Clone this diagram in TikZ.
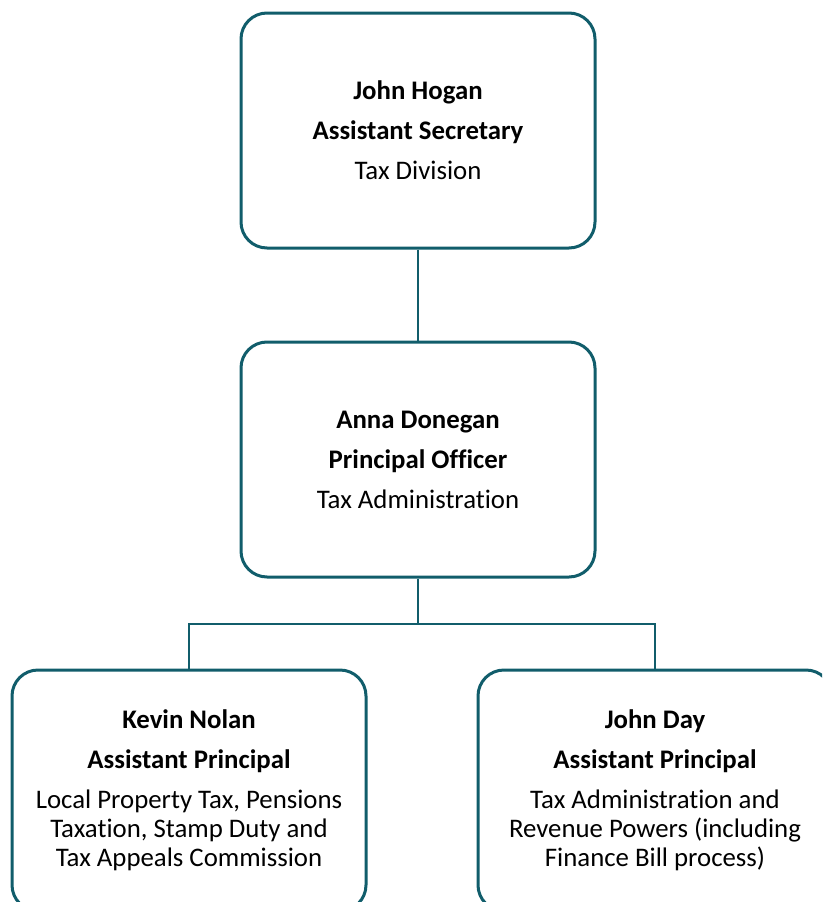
\documentclass[tikz,border=0pt]{standalone}
\usepackage{fontspec}
\setmainfont{Carlito}[Ligatures={NoCommon}]
\definecolor{orgline}{HTML}{115D6B}
\begin{document}
\begin{tikzpicture}[x=1pt,y=-1pt,
  orgbox/.style={draw=orgline, line width=3pt, rounded corners=26pt, fill=white,
    minimum width=354pt, minimum height=235pt, align=center, inner sep=0pt,
    font=\fontsize{26.8}{29}\selectfont},
  lowbox/.style={orgbox, minimum height=241pt},
  link/.style={draw=orgline, line width=2pt}]
\useasboundingbox (0,0) rectangle (822,902);
\clip (0,0) rectangle (822,902);

% junction of the lower connectors
\coordinate (bus) at (418,624);

\node[orgbox] (hogan) at (418,130.5)
  {\textbf{John Hogan}\\[11pt]\textbf{Assistant Secretary}\\[11pt]Tax Division};
\node[orgbox] (donegan) at (418,459.5)
  {\textbf{Anna Donegan}\\[11pt]\textbf{Principal Officer}\\[11pt]Tax Administration};
\node[lowbox] (nolan) at (189,790.5)
  {\textbf{Kevin Nolan}\\[11pt]\textbf{Assistant Principal}\\[11pt]Local Property Tax, Pensions\\Taxation, Stamp Duty and\\Tax Appeals Commission};
\node[lowbox] (day) at (655,790.5)
  {\textbf{John Day}\\[11pt]\textbf{Assistant Principal}\\[11pt]Tax Administration and\\Revenue Powers (including\\Finance Bill process)};

\draw[link] (hogan.south) -- (donegan.north);
\draw[link] (donegan.south) -- (bus);
\draw[link] (nolan.north) |- (bus) -| (day.north);
\end{tikzpicture}
\end{document}
